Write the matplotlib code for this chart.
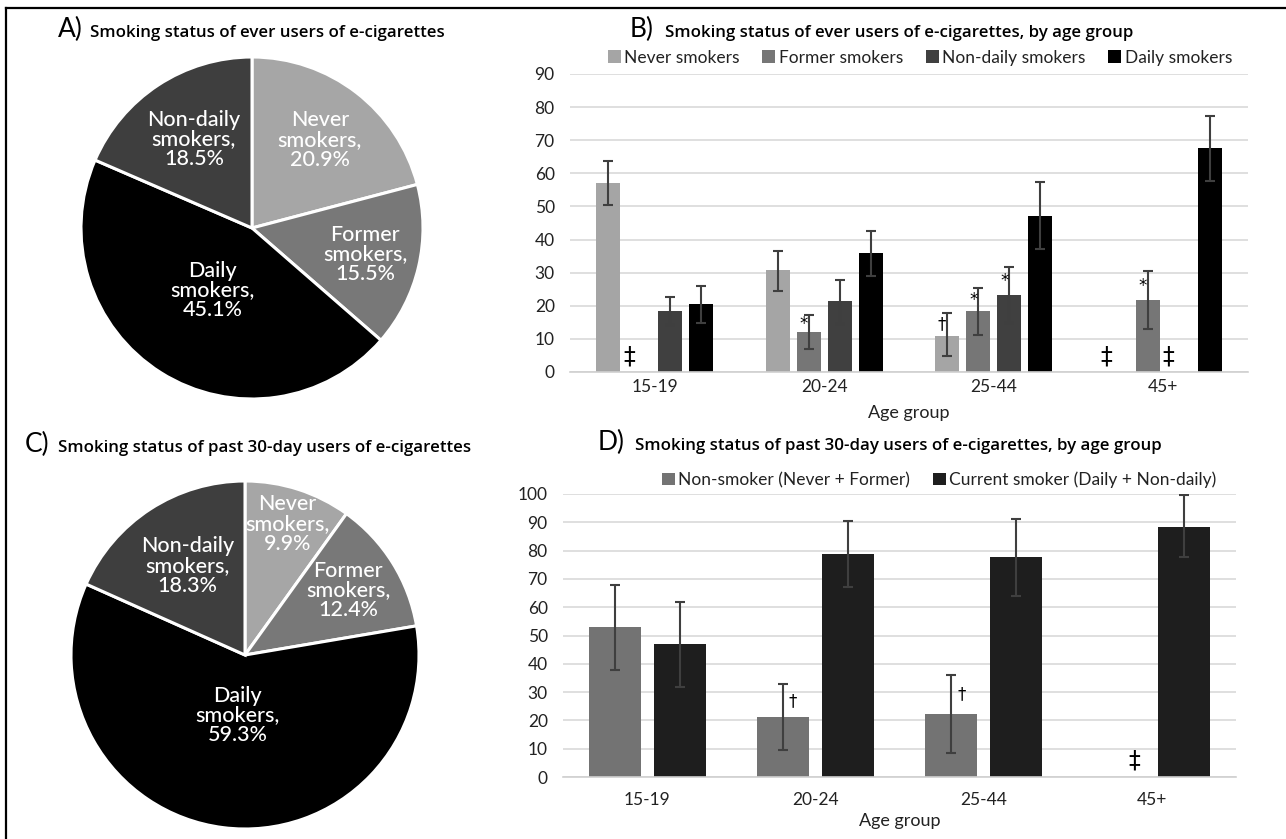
import numpy as np
import matplotlib
matplotlib.use('Agg')
import matplotlib.pyplot as plt
from matplotlib.lines import Line2D

plt.rcParams['font.family'] = ['Lato', 'DejaVu Sans']

W, H = 1286, 839

# pie data (ever users / past 30-day users)
pie_names = ['Never\nsmokers', 'Former\nsmokers', 'Daily\nsmokers', 'Non-daily\nsmokers']
pie_ever = [20.9, 15.5, 45.1, 18.5]
pie_30day = [9.9, 12.4, 59.3, 18.3]

# bar data by age group
ages = ['15-19', '20-24', '25-44', '45+']
b_labels = ['Never smokers', 'Former smokers', 'Non-daily smokers', 'Daily smokers']
nan = np.nan
b_never = [57.2, 30.8, 11.0, nan]
b_never_lo = [50.4, 24.4, 4.7, nan]
b_never_hi = [63.6, 36.6, 17.7, nan]
b_never_flag = ['', '', '†', '‡']
b_former = [nan, 12.0, 18.3, 21.7]
b_former_lo = [nan, 6.8, 11.1, 13.1]
b_former_hi = [nan, 17.1, 25.4, 30.5]
b_former_flag = ['‡', '*', '*', '*']
b_nondaily = [18.3, 21.3, 23.3, nan]
b_nondaily_lo = [14.1, 14.6, 14.7, nan]
b_nondaily_hi = [22.8, 27.8, 31.7, nan]
b_nondaily_flag = ['', '', '*', '‡']
b_daily = [20.4, 35.8, 47.2, 67.6]
b_daily_lo = [14.7, 29.0, 37.0, 57.8]
b_daily_hi = [26.1, 42.6, 57.3, 77.2]
b_daily_flag = ['', '', '', '']

d_labels = ['Non-smoker (Never + Former)', 'Current smoker (Daily + Non-daily)']
d_non = [52.9, 21.1, 22.4, nan]
d_non_lo = [37.9, 9.4, 8.4, nan]
d_non_hi = [67.9, 32.7, 36.0, nan]
d_non_flag = ['', '†', '†', '‡']
d_cur = [47.1, 78.9, 77.6, 88.5]
d_cur_lo = [31.7, 67.2, 63.9, 77.8]
d_cur_hi = [61.9, 90.4, 91.2, 99.5]
d_cur_flag = ['', '', '', '']


def px_box(left, top, right, bottom):
    return [left / W, 1 - bottom / H, (right - left) / W, (bottom - top) / H]


fig = plt.figure(figsize=(W / 100, H / 100), dpi=100)

# outer frame (left and top only)
fig.add_artist(Line2D([6 / W, 6 / W], [0, 1 - 8 / H], color='black', lw=1.6))
fig.add_artist(Line2D([6 / W, 1], [1 - 8 / H, 1 - 8 / H], color='black', lw=1.6))


def title(letter, text, x_letter, x_text, y_base):
    fig.text(x_letter / W, 1 - y_base / H, letter, fontsize=19, va='baseline', ha='left',
             fontweight='normal')
    fig.text(x_text / W, 1 - y_base / H, text, fontsize=12.2, fontweight='semibold',
             family=['Open Sans', 'DejaVu Sans'], va='baseline', ha='left')


title('A)', 'Smoking status of ever users of e-cigarettes', 58, 90, 37)
title('B)', 'Smoking status of ever users of e-cigarettes, by age group', 630, 665, 37)
title('C)', 'Smoking status of past 30-day users of e-cigarettes', 25, 58, 452)
title('D)', 'Smoking status of past 30-day users of e-cigarettes, by age group', 598, 635, 450)

pie_colors = ['#a6a6a6', '#787878', '#000000', '#3e3e3e']


def draw_pie(box, values, dists):
    ax = fig.add_axes(box)
    wedges, _ = ax.pie(values, colors=pie_colors, startangle=90, counterclock=False,
                       wedgeprops=dict(edgecolor='white', linewidth=2.2))
    ax.set_xlim(-1.04, 1.04)
    ax.set_ylim(-1.04, 1.04)
    ax.set_aspect('equal')
    ax.set_axis_off()
    for w, name, v, d in zip(wedges, pie_names, values, dists):
        ang = np.deg2rad((w.theta1 + w.theta2) / 2)
        ax.text(d * np.cos(ang), d * np.sin(ang), '{},\n{:.1f}%'.format(name, v),
                ha='center', va='center', color='white', fontsize=15.5,
                fontweight='medium', linespacing=0.98)


r = 171 * 1.04
draw_pie(px_box(252 - r, 228 - r, 252 + r, 228 + r), pie_ever, [0.65, 0.68, 0.43, 0.62])
r = 174 * 1.04
draw_pie(px_box(245 - r, 655 - r, 245 + r, 655 + r), pie_30day, [0.79, 0.70, 0.35, 0.61])


def style_axes(ax, ymax, step):
    ax.set_ylim(0, ymax)
    ax.set_yticks(np.arange(0, ymax + 1, step))
    ax.set_xlim(-0.5, len(ages) - 0.5)
    ax.set_xticks(np.arange(len(ages)))
    ax.set_xticklabels(ages)
    ax.yaxis.grid(True, color='#d9d9d9', lw=1.2)
    ax.set_axisbelow(True)
    for s in ['top', 'right', 'left']:
        ax.spines[s].set_visible(False)
    ax.spines['bottom'].set_color('#d0d0d0')
    ax.spines['bottom'].set_linewidth(1.2)
    ax.tick_params(axis='both', length=0, labelsize=12.5, colors='#222222')
    ax.tick_params(axis='y', pad=11)


def draw_series(ax, x, vals, lo, hi, flags, width, color, label, offs):
    vals = np.array(vals)
    ax.bar(x, np.nan_to_num(vals), width, color=color, label=label, zorder=2)
    ok = ~np.isnan(vals)
    err = np.array([vals - np.array(lo), np.array(hi) - vals])
    ax.errorbar(x[ok], vals[ok], yerr=err[:, ok], fmt='none', ecolor='#3f3f3f',
                elinewidth=1.5, capsize=3.5, capthick=1.5, zorder=3)
    for xi, v, l, h, f in zip(x, vals, lo, hi, flags):
        if f == '‡':
            ax.text(xi + offs['‡'], offs['dy'], f, ha='center', va='center', fontsize=17,
                    family=['DejaVu Sans'])
        elif f:
            ax.text(xi + offs[f], v + (h - v) * 0.5, f, ha='center', va='center',
                    fontsize=12, family=['DejaVu Sans'])


# panel B
axB = fig.add_axes(px_box(570, 74, 1248, 372))
style_axes(axB, 90, 10)
axB.tick_params(axis='x', pad=5)
xb = np.arange(len(ages))
step_b, width_b = 0.183, 0.142
b_sets = [
    (b_never, b_never_lo, b_never_hi, b_never_flag, '#a5a5a5'),
    (b_former, b_former_lo, b_former_hi, b_former_flag, '#767676'),
    (b_nondaily, b_nondaily_lo, b_nondaily_hi, b_nondaily_flag, '#404040'),
    (b_daily, b_daily_lo, b_daily_hi, b_daily_flag, '#000000'),
]
offs_b = {'‡': -0.06, '*': -0.03, '†': -0.03, 'dy': 4.6}
for i, (v, lo, hi, fl, c) in enumerate(b_sets):
    draw_series(axB, xb + (i - 1.5) * step_b, v, lo, hi, fl, width_b, c, b_labels[i], offs_b)
axB.set_xlabel('Age group', fontsize=13, color='#222222')
axB.xaxis.set_label_coords(0.5, -0.11)
axB.legend(ncol=4, loc='center', bbox_to_anchor=(0.516, 1.054), frameon=False,
           fontsize=12.5, handlelength=0.75, handleheight=0.75, handletextpad=0.2,
           columnspacing=1.3, borderpad=0, labelcolor='#222222')

# panel D
axD = fig.add_axes(px_box(563, 494, 1236, 777))
style_axes(axD, 100, 10)
axD.tick_params(axis='x', pad=11)
step_d, width_d = 0.386, 0.309
offs_d = {'‡': 0.09, '†': 0.06, 'dy': 6.0}
draw_series(axD, xb - step_d / 2, d_non, d_non_lo, d_non_hi, d_non_flag, width_d,
            '#737373', d_labels[0], offs_d)
draw_series(axD, xb + step_d / 2, d_cur, d_cur_lo, d_cur_hi, d_cur_flag, width_d,
            '#1e1e1e', d_labels[1], offs_d)
axD.set_xlabel('Age group', fontsize=13, color='#222222')
axD.xaxis.set_label_coords(0.5, -0.128)
axD.legend(ncol=2, loc='center', bbox_to_anchor=(0.559, 1.05), frameon=False,
           fontsize=12.5, handlelength=0.75, handleheight=0.75, handletextpad=0.2,
           columnspacing=1.3, borderpad=0, labelcolor='#222222')

fig.savefig('out.png', dpi=100)
